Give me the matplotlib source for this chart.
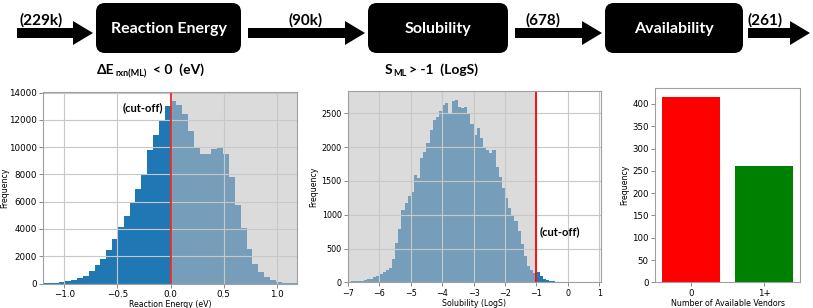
import numpy as np
import matplotlib
matplotlib.use('Agg')
from matplotlib import pyplot as plt
from matplotlib.patches import FancyBboxPatch, FancyArrow

# screening funnel
stage_names = ['Reaction Energy', 'Solubility', 'Availability']
stage_counts = ['(229k)', '(90k)', '(678)', '(261)']

# reaction energy histogram, bins of 0.055 eV starting at -1.21
energy_start = -1.21
energy_width = 0.055
energy_counts = [30, 50, 70, 120, 170, 245, 370, 540, 900, 1340, 1830,
                 2490, 3245, 4150, 4930, 5980, 6950, 7930, 9810, 10860, 11900, 13000,
                 13370, 13100, 12450, 11150, 10000, 9500, 9500, 9850, 10000, 9500,
                 7800, 5750, 4050, 2500, 1460, 850, 490, 250, 130, 70, 40, 20]
energy_cut = 0.0

# solubility histogram, bins of 0.1 LogS starting at -7
sol_start = -7.0
sol_width = 0.1
sol_counts = [12, 14, 16, 20, 25, 32, 42, 55, 72, 95,
              125, 150, 185, 215, 350, 580, 790, 1070, 1170, 1280,
              1340, 1590, 1550, 1840, 1930, 2060, 2260, 2400, 2440, 2530,
              2630, 2650, 2500, 2680, 2700, 2600, 2580, 2590, 2500, 2340,
              2180, 2280, 2130, 1990, 1960, 1910, 1960, 1700, 1560, 1400,
              1250, 1100, 975, 900, 755, 560, 385, 240, 185, 140,
              150, 90, 55, 35, 25, 15, 10, 8, 6, 5,
              4, 3, 3, 2, 2, 1]
sol_cut = -1.0

# vendors
vendor_labels = ['0', '1+']
vendor_counts = [415, 261]

blue = '#1f77b4'
spine_col = '#a0a0a0'
bold_font = ['Lato', 'DejaVu Sans']

fig = plt.figure(figsize=(8.13, 3.08), dpi=100)

def style(ax, size):
    for s in ax.spines.values():
        s.set_color(spine_col)
    ax.tick_params(labelsize=size, length=3, width=0.6, color='#777777', pad=1.5)

# reaction energy
ax1 = fig.add_axes([0.0529, 0.0795, 0.3124, 0.623])
left = energy_start + energy_width * np.arange(len(energy_counts))
ax1.bar(left, energy_counts, width=energy_width, align='edge', color=blue, lw=0)
ax1.axvspan(energy_cut, 2, color='#bfbfbf', alpha=0.55, lw=0)
ax1.axvline(energy_cut, color='#f02a1a', lw=1.3)
ax1.set_xlim(-1.2, 1.19)
ax1.set_ylim(0, 14070)
ax1.set_yticks(np.arange(0, 14001, 2000))
ax1.grid(True, color='#c8c8c8', lw=0.8)
ax1.text(-0.07, 12870, '(cut-off)', ha='right', va='center', fontsize=8,
         fontweight='bold', family=bold_font)
ax1.set_xlabel('Reaction Energy (eV)', fontsize=5.7, labelpad=1)
ax1.set_ylabel('Frequency', fontsize=5.7)
ax1.yaxis.set_label_coords(-0.132, 0.5)
style(ax1, 6.3)

# solubility
ax2 = fig.add_axes([0.428, 0.0834, 0.311, 0.622])
left = sol_start + sol_width * np.arange(len(sol_counts))
ax2.bar(left, sol_counts, width=sol_width, align='edge', color=blue, lw=0)
ax2.axvspan(-8, sol_cut, color='#bfbfbf', alpha=0.55, lw=0)
ax2.axvline(sol_cut, color='red', lw=1.3)
ax2.set_xlim(-7.0, 1.05)
ax2.set_ylim(0, 2835)
ax2.set_xticks(np.arange(-7, 2))
ax2.grid(True, color='#c8c8c8', lw=0.8)
ax2.text(-0.9, 750, '(cut-off)', ha='left', va='center', fontsize=8,
         fontweight='bold', family=bold_font)
ax2.set_xlabel('Solubility (LogS)', fontsize=5.7, labelpad=1)
ax2.set_ylabel('Frequency', fontsize=5.7, labelpad=2)
style(ax2, 5.8)

# vendors
ax3 = fig.add_axes([0.8057, 0.0834, 0.1784, 0.631])
ax3.bar(vendor_labels, vendor_counts, color=['red', 'green'], width=0.8)
ax3.set_yticks(np.arange(0, 401, 50))
ax3.set_xlabel('Number of Available Vendors', fontsize=5.7, labelpad=1)
ax3.set_ylabel('Frequency', fontsize=5.7, labelpad=2)
style(ax3, 6.2)

# funnel diagram on top, in pixel units
top = fig.add_axes([0, 0, 1, 1], zorder=5)
top.set_xlim(0, 813)
top.set_ylim(308, 0)
top.axis('off')

boxes = [(96, 241), (368, 508), (605, 743)]
for (x0, x1), name in zip(boxes, stage_names):
    top.add_patch(FancyBboxPatch((x0, 3), x1 - x0, 50,
                                 boxstyle='round,pad=0,rounding_size=9',
                                 fc='black', ec='none'))
    top.text((x0 + x1) / 2, 29, name, color='white', ha='center', va='center',
             fontsize=11.5, fontweight='bold', family=bold_font)

arrows = [(17, 93), (248, 365), (515, 602), (748, 810)]
label_x = [41, 306, 543, 765]
for (a, b), lab, lx in zip(arrows, stage_counts, label_x):
    top.add_patch(FancyArrow(a, 33, b - a, 0, width=10, head_width=24,
                             head_length=20, length_includes_head=True,
                             fc='black', ec='none'))
    top.text(lx, 20, lab, ha='center', va='center', fontsize=11,
             fontweight='bold', family=bold_font)

# criteria below the boxes
top.text(97, 70, 'ΔE', ha='left', va='center', fontsize=10, fontweight='bold',
         family=bold_font)
top.text(115, 74, 'rxn(ML)', ha='left', va='center', fontsize=6.5,
         fontweight='bold', family=bold_font)
top.text(153, 70, '< 0  (eV)', ha='left', va='center', fontsize=10,
         fontweight='bold', family=bold_font)

top.text(385, 70, 'S', ha='left', va='center', fontsize=10, fontweight='bold',
         family=bold_font)
top.text(393, 74, 'ML', ha='left', va='center', fontsize=6.5,
         fontweight='bold', family=bold_font)
top.text(409, 70, '> -1  (LogS)', ha='left', va='center', fontsize=10,
         fontweight='bold', family=bold_font)

fig.savefig('out.png', dpi=100)
